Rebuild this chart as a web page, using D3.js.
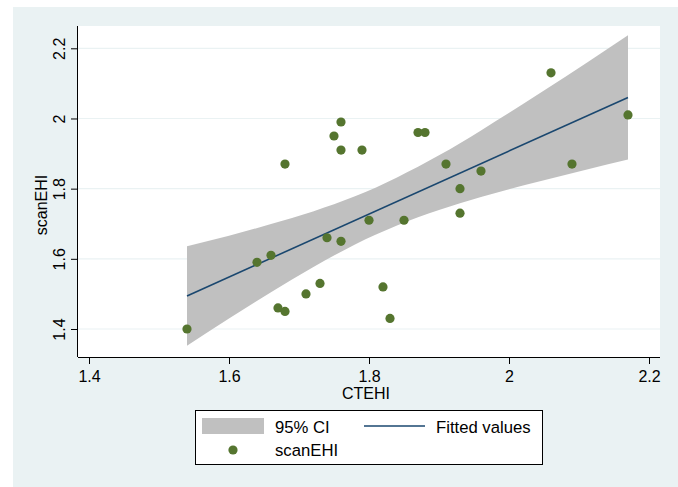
<!DOCTYPE html>
<meta charset="utf-8">
<script src="https://d3js.org/d3.v7.min.js"></script>
<style>
  body { margin: 0; background: #fff; }
  text { font-family: "Liberation Sans", Arial, sans-serif; fill: #000; }
</style>
<div id="my_dataviz"></div>

<script>

// Data: scanEHI vs CTEHI
var ctehi   = [1.54, 1.64, 1.66, 1.68, 1.67, 1.68, 1.71, 1.73, 1.74, 1.76, 1.75, 1.76, 1.76, 1.79,
               1.80, 1.82, 1.83, 1.85, 1.87, 1.88, 1.91, 1.93, 1.93, 1.96, 2.06, 2.09, 2.17];
var scanehi = [1.40, 1.59, 1.61, 1.87, 1.46, 1.45, 1.50, 1.53, 1.66, 1.65, 1.95, 1.99, 1.91, 1.91,
               1.71, 1.52, 1.43, 1.71, 1.96, 1.96, 1.87, 1.80, 1.73, 1.85, 2.13, 1.87, 2.01];

// Fitted values
var fitX = [1.54, 2.17];
var fitY = [1.494, 2.060];

// 95% CI band
var ciX  = [1.54, 1.60, 1.66, 1.72, 1.78, 1.84, 1.90, 1.96, 2.02, 2.08, 2.14, 2.17];
var ciLo = [1.352, 1.430, 1.505, 1.576, 1.641, 1.695, 1.739, 1.776, 1.809, 1.839, 1.869, 1.883];
var ciHi = [1.636, 1.666, 1.699, 1.735, 1.778, 1.832, 1.895, 1.966, 2.041, 2.118, 2.197, 2.237];

// Ticks
var xTicks = [1.4, 1.6, 1.8, 2, 2.2];
var yTicks = [1.4, 1.6, 1.8, 2, 2.2];

// Dimensions
var W = 678, H = 487;
var plot = {left: 78, right: 660, top: 26, bottom: 357};

var svg = d3.select("#my_dataviz")
  .append("svg")
    .attr("width", W)
    .attr("height", H);

// outer background
svg.append("rect")
  .attr("x", 13).attr("y", 7)
  .attr("width", W - 13).attr("height", H - 7)
  .attr("fill", "#eaf2f3");

// plot region
svg.append("rect")
  .attr("x", plot.left).attr("y", plot.top)
  .attr("width", plot.right - plot.left).attr("height", plot.bottom - plot.top)
  .attr("fill", "#fff");

// scales
var x = d3.scaleLinear()
  .domain([1.4, 2.2])
  .range([89, 649]);
var y = d3.scaleLinear()
  .domain([1.4, 2.2])
  .range([329, 48.3]);

// gridlines
svg.append("g")
  .selectAll("line")
  .data(yTicks)
  .enter()
  .append("line")
    .attr("x1", plot.left).attr("x2", plot.right)
    .attr("y1", function(d) { return y(d); })
    .attr("y2", function(d) { return y(d); })
    .attr("stroke", "#eaf2f3")
    .attr("stroke-width", 1.2);

// CI band
var ci = ciX.map(function(d, i) { return {x: d, lo: ciLo[i], hi: ciHi[i]}; });
svg.append("path")
  .datum(ci)
  .attr("fill", "#c0c0c0")
  .attr("d", d3.area()
    .curve(d3.curveMonotoneX)
    .x(function(d) { return x(d.x); })
    .y0(function(d) { return y(d.lo); })
    .y1(function(d) { return y(d.hi); }));

// fitted line
svg.append("path")
  .datum(fitX.map(function(d, i) { return [d, fitY[i]]; }))
  .attr("fill", "none")
  .attr("stroke", "#1a476f")
  .attr("stroke-width", 1.6)
  .attr("d", d3.line()
    .x(function(d) { return x(d[0]); })
    .y(function(d) { return y(d[1]); }));

// points
svg.append("g")
  .selectAll("circle")
  .data(ctehi)
  .enter()
  .append("circle")
    .attr("cx", function(d) { return x(d); })
    .attr("cy", function(d, i) { return y(scanehi[i]); })
    .attr("r", 4.6)
    .attr("fill", "#55752f");

// X axis
var xAxis = svg.append("g")
  .attr("transform", "translate(0," + plot.bottom + ")")
  .call(d3.axisBottom(x).tickValues(xTicks).tickSize(7).tickSizeOuter(0)
    .tickFormat(function(d) { return d3.format("~g")(d); }));
xAxis.select(".domain").attr("d", "M" + plot.left + ",0.5H" + plot.right).attr("stroke", "#000");
xAxis.selectAll("text").attr("y", 9).attr("dy", "16px").style("font-size", "16px")
  .attr("font-family", "Liberation Sans, Arial, sans-serif");

// Y axis
var yAxis = svg.append("g")
  .attr("transform", "translate(" + plot.left + ",0)")
  .call(d3.axisLeft(y).tickValues(yTicks).tickSize(7).tickSizeOuter(0)
    .tickFormat(function(d) { return d3.format("~g")(d); }));
yAxis.select(".domain").attr("d", "M-0.5," + plot.top + "V" + plot.bottom).attr("stroke", "#000");
yAxis.selectAll("text")
  .attr("x", null).attr("dy", null)
  .attr("text-anchor", "middle")
  .attr("transform", "translate(-13,0) rotate(-90)")
  .style("font-size", "16px")
  .attr("font-family", "Liberation Sans, Arial, sans-serif");

// axis titles
svg.append("text")
  .attr("x", 366).attr("y", 398.5)
  .attr("text-anchor", "middle")
  .style("font-size", "16px")
  .text("CTEHI");
svg.append("text")
  .attr("transform", "translate(47,205) rotate(-90)")
  .attr("text-anchor", "middle")
  .style("font-size", "16px")
  .text("scanEHI");

// legend
var lg = svg.append("g");
lg.append("rect")
  .attr("x", 195.5).attr("y", 410.5)
  .attr("width", 347).attr("height", 54)
  .attr("fill", "#fff").attr("stroke", "#000").attr("stroke-width", 1);
lg.append("rect")
  .attr("x", 202).attr("y", 418)
  .attr("width", 62).attr("height", 16)
  .attr("fill", "#c0c0c0");
lg.append("text").attr("x", 275).attr("y", 433).style("font-size", "16.7px").text("95% CI");
lg.append("line")
  .attr("x1", 364).attr("x2", 425).attr("y1", 426).attr("y2", 426)
  .attr("stroke", "#1a476f").attr("stroke-width", 1.6);
lg.append("text").attr("x", 436).attr("y", 433).style("font-size", "16.7px").text("Fitted values");
lg.append("circle")
  .attr("cx", 233).attr("cy", 450).attr("r", 4.6)
  .attr("fill", "#55752f");
lg.append("text").attr("x", 275).attr("y", 456).style("font-size", "16.7px").text("scanEHI");

</script>
